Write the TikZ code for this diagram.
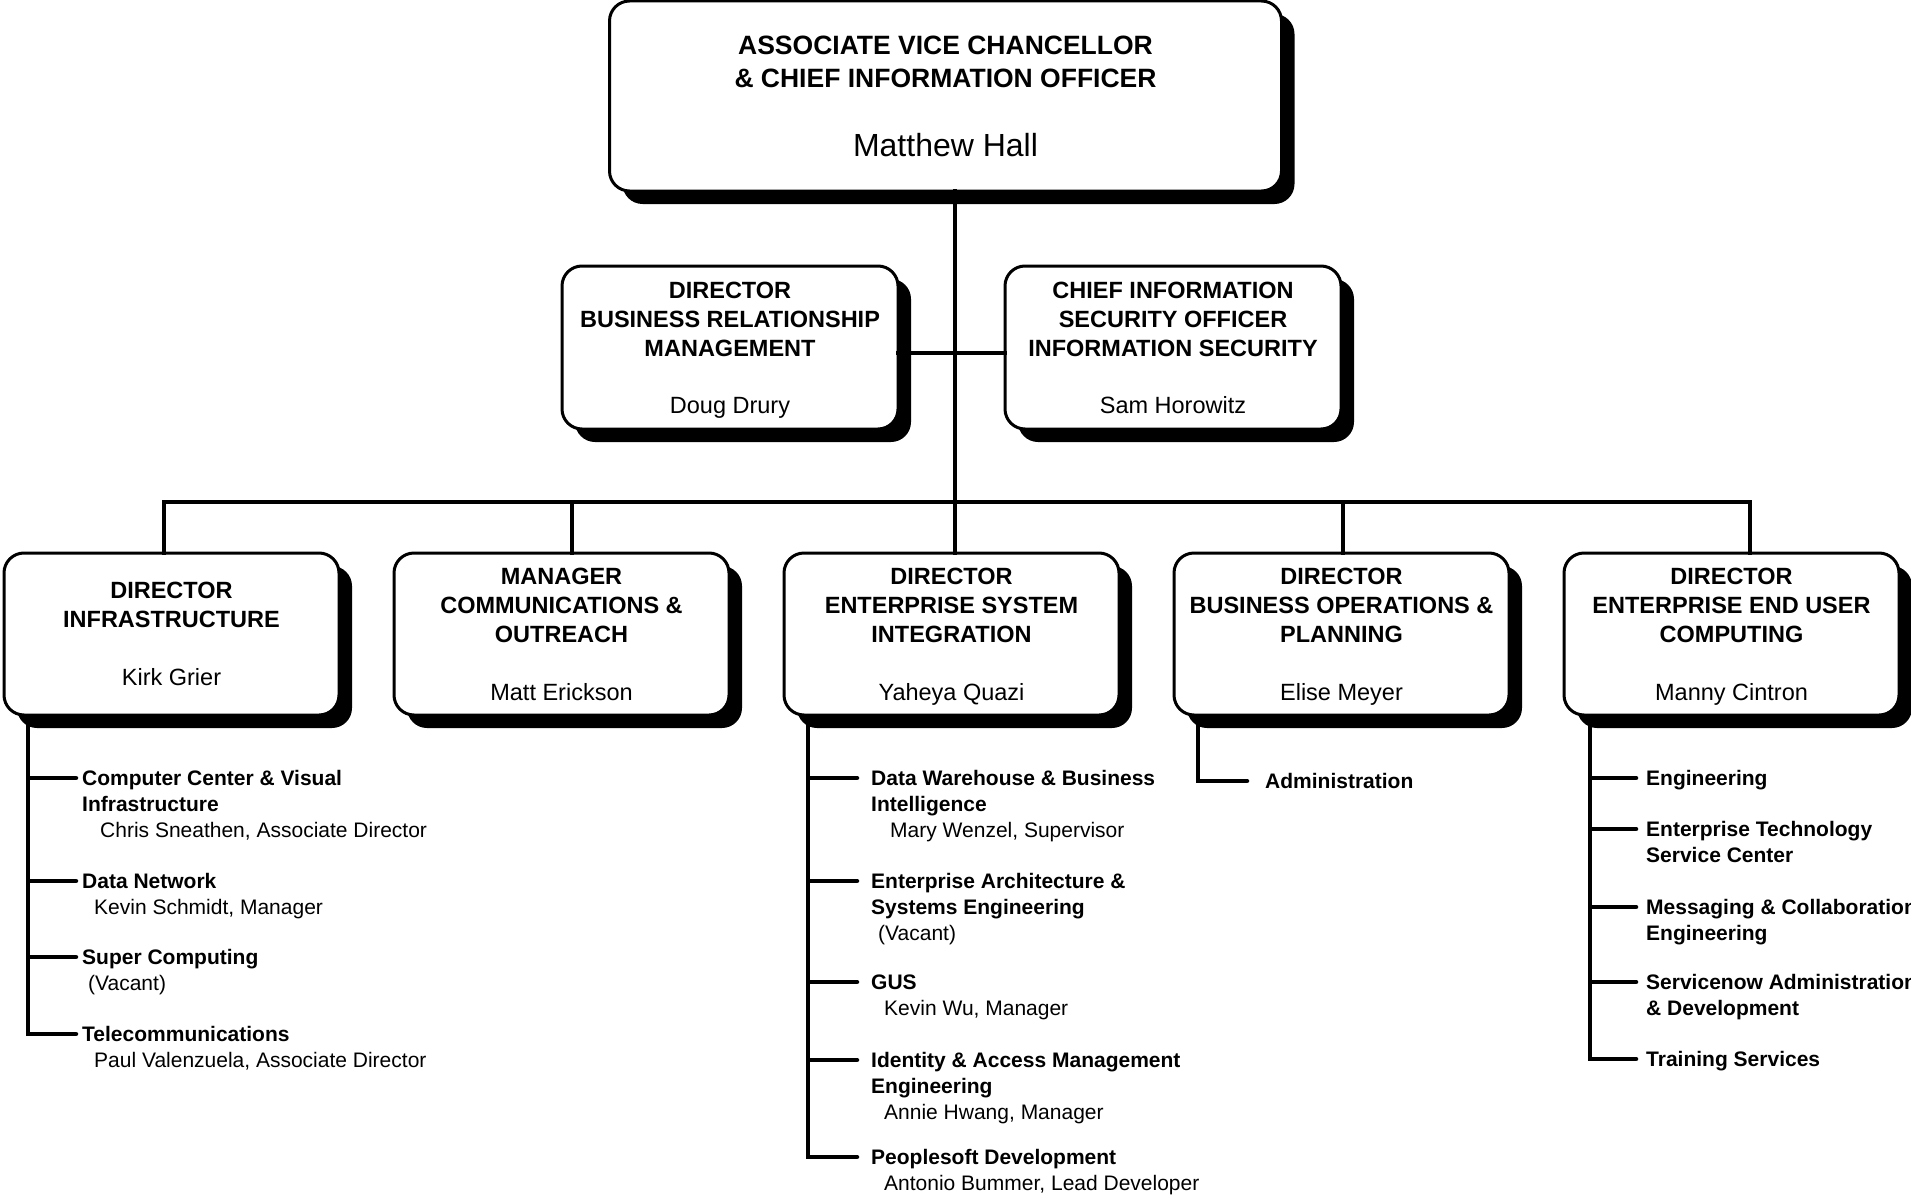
\documentclass[tikz,border=0pt]{standalone}
\usepackage{fontspec}
\setmainfont{Liberation Sans}
\usetikzlibrary{positioning,shadows}
\definecolor{Ink}{HTML}{000000}
\definecolor{Paper}{HTML}{FFFFFF}
\newcommand{\holder}[1]{\mdseries\raisebox{0pt}[\height][0pt]{#1}}
\tikzset{
  org head/.style={draw=Ink,line width=3pt,fill=Paper,rounded corners=20pt,
    drop shadow={shadow xshift=13pt,shadow yshift=-13pt,fill=Ink,opacity=1},
    align=center,inner sep=0pt,outer sep=0pt,minimum width=672pt,minimum height=190pt,
    font=\fontsize{26.5}{33}\selectfont\bfseries,text=Ink},
  org unit/.style={org head,minimum width=335pt,minimum height=162pt,
    font=\fontsize{23.5}{29}\selectfont\bfseries},
  org item/.style={anchor=north west,align=left,inner sep=0pt,
    font=\fontsize{21}{26}\selectfont\bfseries,text=Ink},
  org link/.style={draw=Ink,line width=4.5pt,line cap=rect},
  org branch/.style={draw=Ink,line width=4.5pt,line cap=round,line join=miter}
}

\begin{document}
\begin{tikzpicture}[x=1pt,y=-1pt,node distance=55pt]
  \path[use as bounding box,fill=Paper] (0,0) rectangle (1911,1196);
  \node[org head] (avc) at (945.5,96) {ASSOCIATE VICE CHANCELLOR\\\& CHIEF INFORMATION OFFICER\\[36pt]{\mdseries\fontsize{32}{33}\selectfont Matthew Hall}};
  \node[org unit,minimum width=336pt,minimum height=163pt] (brm) at (730,347.5) {DIRECTOR\\BUSINESS RELATIONSHIP\\MANAGEMENT\\[28pt]\holder{Doug Drury}};
  \node[org unit,minimum width=336pt,minimum height=163pt,right=107pt of brm] (ciso) {CHIEF INFORMATION\\SECURITY OFFICER\\INFORMATION SECURITY\\[28pt]\holder{Sam Horowitz}};
  \node[org unit] (infra) at (171.5,634) {DIRECTOR\\INFRASTRUCTURE\\[29pt]\holder{Kirk Grier}};
  \node[org unit,right=of infra] (comms) {MANAGER\\COMMUNICATIONS \&\\OUTREACH\\[29pt]\holder{Matt Erickson}};
  \node[org unit,right=of comms] (esi) {DIRECTOR\\ENTERPRISE SYSTEM\\INTEGRATION\\[29pt]\holder{Yaheya Quazi}};
  \node[org unit,right=of esi] (bop) {DIRECTOR\\BUSINESS OPERATIONS \&\\PLANNING\\[29pt]\holder{Elise Meyer}};
  \node[org unit,right=of bop] (eeuc) {DIRECTOR\\ENTERPRISE END USER\\COMPUTING\\[29pt]\holder{Manny Cintron}};

  \coordinate (hub) at (955,502);
  \draw[org link] (avc.south -| hub) -- (esi.north -| hub);
  \draw[org link] ([yshift=-5.5pt]brm.east) -- ([yshift=-5.5pt]ciso.west);
  \draw[org link] ([xshift=-7.5pt]infra.north |- hub) -- ([xshift=18.5pt]eeuc.north |- hub);
  \foreach \n/\dx in {infra/-7.5,comms/10.5,bop/1.5,eeuc/18.5}
    \draw[org link] ([xshift=\dx pt]\n.north |- hub) -- ([xshift=\dx pt]\n.north);

  \node[org item] (ccvi) at (82,770.5) {Computer Center \& Visual\\Infrastructure\\\mdseries\hspace*{18pt}Chris Sneathen, Associate Director};
  \node[org item] (dnet) at (82,873.5) {Data Network\\\mdseries\hspace*{12pt}Kevin Schmidt, Manager};
  \node[org item] (scomp) at (82,949.5) {Super Computing\\\mdseries\hspace*{6pt}(Vacant)};
  \node[org item] (telecom) at (82,1026.5) {Telecommunications\\\mdseries\hspace*{12pt}Paul Valenzuela, Associate Director};

  \node[org item] (dwbi) at (871,770.5) {Data Warehouse \& Business\\Intelligence\\\mdseries\hspace*{19pt}Mary Wenzel, Supervisor};
  \node[org item] (ease) at (871,873.5) {Enterprise Architecture \&\\Systems Engineering\\\mdseries\hspace*{7pt}(Vacant)};
  \node[org item] (gus) at (871,974.5) {GUS\\\mdseries\hspace*{13pt}Kevin Wu, Manager};
  \node[org item] (iam) at (871,1052.5) {Identity \& Access Management\\Engineering\\\mdseries\hspace*{13pt}Annie Hwang, Manager};
  \node[org item] (psft) at (871,1149.5) {Peoplesoft Development\\\mdseries\hspace*{13pt}Antonio Bummer, Lead Developer};

  \node[org item] (admin) at (1265,773.5) {Administration};

  \node[org item] (eng) at (1646,770.5) {Engineering};
  \node[org item] (etsc) at (1646,821.5) {Enterprise Technology\\Service Center};
  \node[org item] (mce) at (1646,899.5) {Messaging \& Collaboration\\Engineering};
  \node[org item] (sad) at (1646,974.5) {Servicenow Administration\\\& Development};
  \node[org item] (train) at (1646,1051.5) {Training Services};

  \foreach \n in {ccvi,dnet,scomp,telecom}
    \draw[org branch] ([xshift=24pt,yshift=-2pt]infra.south west) |- ([xshift=-6pt,yshift=-7.5pt]\n.north west);
  \foreach \n in {dwbi,ease,gus,iam,psft}
    \draw[org branch] ([xshift=24pt,yshift=-2pt]esi.south west) |- ([xshift=-14pt,yshift=-7.5pt]\n.north west);
  \draw[org branch] ([xshift=24pt,yshift=-2pt]bop.south west) |- ([xshift=-18pt,yshift=-7.5pt]admin.north west);
  \foreach \n in {eng,etsc,mce,sad,train}
    \draw[org branch] ([xshift=26pt,yshift=-2pt]eeuc.south west) |- ([xshift=-10pt,yshift=-7.5pt]\n.north west);
\end{tikzpicture}
\end{document}
